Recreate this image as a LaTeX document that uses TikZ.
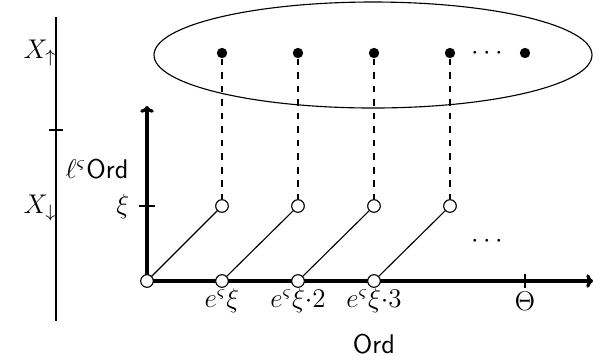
\documentclass[tikz,border=0pt]{standalone}
\usetikzlibrary{arrows.meta}
\begin{document}
\begin{tikzpicture}[x=0.444pt,y=-0.444pt,
  font=\fontsize{12}{14}\selectfont,
  hollow/.style={circle,draw,fill=white,inner sep=0pt,minimum size=5.6pt,line width=0.5pt},
  solid/.style={circle,fill=black,inner sep=0pt,minimum size=4.6pt},
  axis/.style={line width=1.4pt,-{To[length=3pt,width=6pt]}},
  tick/.style={line width=0.5pt},
  lab/.style={inner sep=1pt}]
\useasboundingbox (0,0) rectangle (593,361);
% ellipse
\draw[line width=0.5pt] (373,55) ellipse [x radius=219, y radius=53];
% left line
\coordinate (lt) at (56,17);
\coordinate (lb) at (56,321);
\draw[line width=0.9pt] (lt) -- (lb);
\coordinate (lk1) at (49,130);
\coordinate (lk2) at (63,130);
\draw[tick] (lk1) -- (lk2);
\node[lab] (xup) at (40,53) {$X_\uparrow$};
\node[lab] (xdn) at (40,208) {$X_\downarrow$};
% axes
\coordinate (o) at (147,281);
\coordinate (ytip) at (147,106);
\coordinate (xtip) at (593,281);
\draw[axis] (o) -- (ytip);
\draw[axis] (o) -- (xtip);
\node[lab] (lord) at (97,169) {$\ell^\varsigma\mathsf{Ord}$};
\coordinate (yk1) at (139,206);
\coordinate (yk2) at (155,206);
\draw[tick] (yk1) -- (yk2);
\node[lab,anchor=east] (xi) at (132,207) {$\xi$};
\coordinate (tk1) at (525,274);
\coordinate (tk2) at (525,288);
\draw[tick] (tk1) -- (tk2);
\node[lab] (theta) at (525,301) {$\Theta$};
\node[lab] (ord) at (374,344) {$\mathsf{Ord}$};
% top dots
\foreach \i/\x in {1/222,2/298,3/374,4/450,5/525}
  \node[solid] (t\i) at (\x,53) {};
\node[lab] (tdots) at (487,53) {$\cdots$};
% upper hollow circles
\foreach \i/\x in {1/222,2/298,3/374,4/450}
  \node[hollow] (u\i) at (\x,206) {};
% bottom hollow circles
\node[hollow] (b0) at (147,281) {};
\node[hollow] (b1) at (222,281) {};
\node[hollow] (b2) at (298,281) {};
\node[hollow] (b3) at (374,281) {};
% connectors
\foreach \i in {1,2,3,4}
  \draw[dashed,line width=0.5pt] (t\i) -- (u\i);
\draw[line width=0.5pt] (b0) -- (u1);
\draw[line width=0.5pt] (b1) -- (u2);
\draw[line width=0.5pt] (b2) -- (u3);
\draw[line width=0.5pt] (b3) -- (u4);
\node[lab] (ldots) at (487,241) {$\cdots$};
% labels
\node[lab] (l1) at (222,301) {$e^\varsigma\xi$};
\node[lab] (l2) at (298,301) {$e^\varsigma\xi{\cdot}2$};
\node[lab] (l3) at (374,301) {$e^\varsigma\xi{\cdot}3$};
\end{tikzpicture}
\end{document}
